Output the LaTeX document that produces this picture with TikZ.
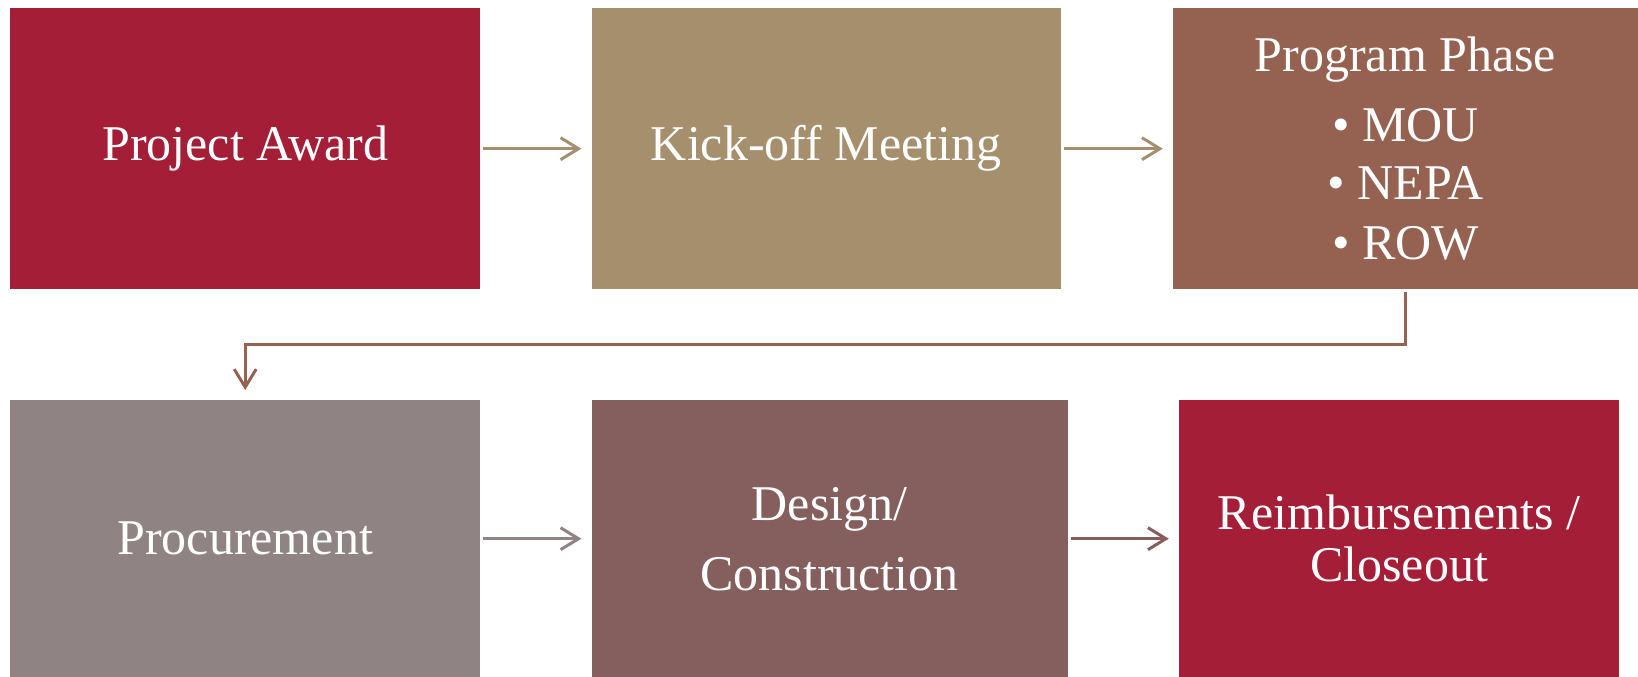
\documentclass[tikz,border=0pt]{standalone}
\usepackage{fontspec}
\setmainfont{Liberation Serif}
\usepackage{tikz}
\usetikzlibrary{positioning, arrows.meta}

\definecolor{crimson}{HTML}{A51E37}
\definecolor{tan}{HTML}{A58F6D}
\definecolor{brownred}{HTML}{956252}
\definecolor{greyish}{HTML}{8F8483}
\definecolor{mauve}{HTML}{855F5E}

\begin{document}
\begin{tikzpicture}[x=1pt, y=-1pt, node distance=111pt,
        stage/.style={rectangle, inner sep=0pt, text=white, align=center,
                font=\fontsize{50}{60}\selectfont},
        flow/.style={line width=3pt, -{Straight Barb[length=18pt, width=22pt]},
                shorten <=3pt, shorten >=10pt}]
        \useasboundingbox (0,0) rectangle (1638,677);
        % first row
        \node[stage, fill=crimson, minimum width=470pt, minimum height=281pt, anchor=north west]
                (award) at (10,8) {Project Award};
        \node[stage, fill=tan, minimum width=469pt, minimum height=281pt, right=of award]
                (kickoff) {Kick-off Meeting};
        \node[stage, fill=brownred, minimum width=465pt, minimum height=281pt, right=112pt of kickoff]
                (phase) {Program Phase\\[10pt] \textbullet\ MOU\\[-2pt] \textbullet\ NEPA\\ \textbullet\ ROW};
        % second row
        \node[stage, fill=greyish, minimum width=470pt, minimum height=277pt, anchor=north west]
                (procure) at (10,400) {Procurement};
        \node[stage, fill=mauve, minimum width=476pt, minimum height=277pt, right=of procure]
                (design) {Design/\\[10pt] Construction};
        \node[stage, fill=crimson, minimum width=440pt, minimum height=277pt, right=of design]
                (closeout) {Reimbursements /\\[-8pt] Closeout};
        % connectors
        \draw[flow, tan] (award) -- (kickoff);
        \draw[flow, tan] (kickoff) -- (phase);
        \draw[flow, brownred] (phase.south) -- ++(0,55) -| (procure.north);
        \draw[flow, greyish] (procure) -- (design);
        \draw[flow, mauve] (design) -- (closeout);
\end{tikzpicture}
\end{document}
